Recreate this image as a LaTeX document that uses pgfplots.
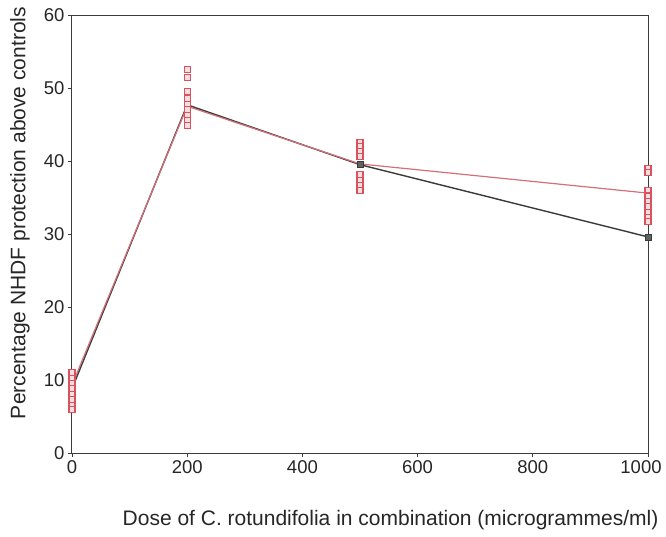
\documentclass[border=0pt]{standalone}
\usepackage{pgfplots}
\pgfplotsset{compat=1.18}
\usepackage{fontspec}
\setmainfont{Liberation Sans}
\definecolor{lineblack}{HTML}{3A3A3A}
\definecolor{linered}{HTML}{D2707A}
\definecolor{mred}{HTML}{D9535F}
\begin{document}
\begin{tikzpicture}
\useasboundingbox (-72pt,-83pt) rectangle (594pt,453pt);
\begin{axis}[
  scale only axis,
  width=576pt, height=438pt,
  xmin=0, xmax=1000, ymin=0, ymax=60,
  xtick={0,200,400,600,800,1000},
  xticklabels={0,200,400,600,800,{\hspace*{-14pt}1000}},
  ytick={0,10,20,30,40,50,60},
  tick align=outside,
  tick pos=left,
  major tick length=4pt,
  axis line style={color=lineblack, line width=1pt},
  tick style={color=lineblack, line width=0.8pt},
  clip=false,
  ticklabel style={font=\fontsize{18.5}{21}\selectfont, text=black!85},
  /pgf/number format/assume math mode=true,
  /pgf/number format/1000 sep={},
  xlabel={Dose of C. rotundifolia in combination (microgrammes/ml)},
  ylabel={Percentage NHDF protection above controls},
  label style={font=\fontsize{21}{23}\selectfont, text=black!85},
  xlabel style={at={(axis description cs:0.553,0)}, anchor=center, yshift=-67pt},
  ylabel style={at={(axis description cs:0,0.548)}, anchor=center, yshift=52pt},
]
\addplot[color=lineblack, line width=1.4pt, mark=square*, mark size=3pt,
  mark options={fill=lineblack!80, line width=0.8pt}] coordinates {
  (0,8.8) (200,47.7) (500,39.5) (1000,29.6)};
\addplot[color=linered, line width=1.2pt, mark=none] coordinates {
  (0,9.3) (200,47.5) (500,39.6) (1000,35.6)};
\addplot[only marks, mark=square*, mark size=3pt, color=mred, mark options={line width=1.1pt, fill=mred!20, draw=mred}] coordinates {
  (0,11.0) (0,10.2) (0,9.5) (0,8.8) (0,8.0) (0,7.3) (0,6.5) (0,5.9)
  (200,52.5) (200,51.4) (200,49.5) (200,48.6) (200,47.8) (200,47.0) (200,46.2) (200,45.5) (200,44.9)
  (500,42.5) (500,42.0) (500,41.3) (500,40.6) (500,38.1) (500,37.3) (500,36.6) (500,36.0)
  (1000,39.0) (1000,38.4) (1000,36.0) (1000,35.2) (1000,34.5) (1000,33.8) (1000,33.0) (1000,32.3) (1000,31.7)
};
\draw[color=lineblack, line width=1pt] (axis cs:0,60) -- (axis cs:1000,60) -- (axis cs:1000,0);
\end{axis}
\end{tikzpicture}
\end{document}
